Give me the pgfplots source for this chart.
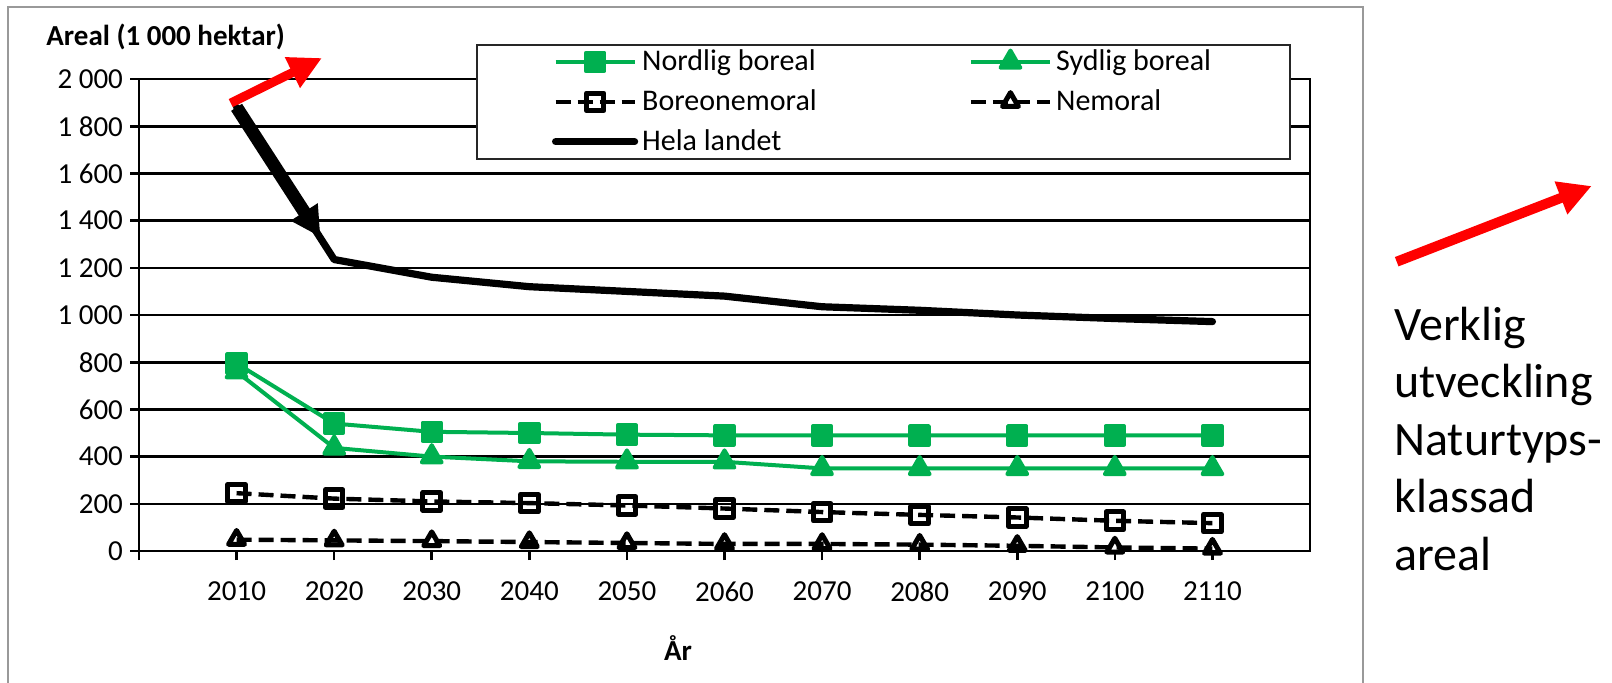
\documentclass[border=0pt]{standalone}
\usepackage{fontspec}
\setmainfont{Carlito}
\usepackage{pgfplots}
\pgfplotsset{compat=1.18}
\usetikzlibrary{arrows.meta}
\definecolor{xlgreen}{HTML}{00B050}

\begin{document}
\begin{tikzpicture}
% page = 1612 x 682 px, 1 px = 0.5pt
\path[use as bounding box, fill=white] (0,0) rectangle (806pt,341pt);
\draw[gray!80, line width=0.8pt] (4pt,-5pt) -- (4pt,337.5pt) -- (681.5pt,337.5pt) -- (681.5pt,-5pt);

\begin{axis}[
    at={(69.5pt,65.5pt)}, anchor=south west,
    scale only axis, width=585.5pt, height=236pt,
    xmin=2000, xmax=2120, ymin=0, ymax=2000,
    xtick={2000,2010,2020,2030,2040,2050,2060,2070,2080,2090,2100,2110},
    xticklabels={,2010,2020,2030,2040,2050,2060,2070,2080,2090,2100,2110},
    ytick={0,200,400,600,800,1000,1200,1400,1600,1800,2000},
    yticklabels={0,200,400,600,800,1 000,1 200,1 400,1 600,1 800,2 000},
    ymajorgrids, grid style={black, line width=1.3pt},
    axis line style={black, line width=1.3pt},
    tick style={black, line width=1.3pt},
    tick align=outside, major tick length=4.5pt, tick pos=left,
    tick label style={font=\fontsize{14.5}{16}\selectfont},
    xticklabel style={yshift=-7.5pt},
    /pgf/number format/assume math mode=true,
    clip=false,
    legend columns=2,
    legend cell align=left,
    legend image code/.code={\draw[mark repeat=2,mark phase=2,#1] plot coordinates {(0pt,0pt) (19.75pt,0pt) (39.5pt,0pt)};},
    legend style={at={(0.2878,1.074)}, anchor=north west, draw=black!85, line width=1pt,
        font=\fontsize{15}{17}\selectfont, inner xsep=37.5pt, inner ysep=0pt,
        nodes={inner ysep=2.5pt}, row sep=3pt,
        /tikz/every even column/.append style={column sep=74pt}},
]
\addplot[xlgreen, line width=2pt, mark=square*, mark size=4.6pt, mark options={solid, line join=round}] coordinates {
    (2010,795) (2020,540) (2030,505) (2040,500) (2050,493) (2060,490)
    (2070,490) (2080,490) (2090,490) (2100,490) (2110,490)
};
\addlegendentry{Nordlig boreal}
\addplot[xlgreen, line width=2pt, mark=triangle*, mark size=5.7pt, mark options={solid, line join=round}] coordinates {
    (2010,760) (2020,437) (2030,400) (2040,380) (2050,378) (2060,378)
    (2070,350) (2080,350) (2090,350) (2100,350) (2110,350)
};
\addlegendentry{Sydlig boreal}
\addplot[black, line width=2.2pt, dash pattern=on 7.5pt off 3.5pt, mark=square, mark size=4.4pt,
    mark options={solid, line width=2.5pt, line join=round}] coordinates {
    (2010,245) (2020,222) (2030,210) (2040,203) (2050,193) (2060,180)
    (2070,165) (2080,153) (2090,142) (2100,128) (2110,118)
};
\addlegendentry{Boreonemoral}
\addplot[black, line width=2.2pt, dash pattern=on 7.5pt off 3.5pt, mark=triangle, mark size=4.6pt,
    mark options={solid, line width=2.5pt, line join=round}] coordinates {
    (2010,48) (2020,45) (2030,42) (2040,38) (2050,34) (2060,30)
    (2070,30) (2080,27) (2090,22) (2100,15) (2110,10)
};
\addlegendentry{Nemoral}
\addplot[black, line width=3.6pt, line cap=round, line join=round] coordinates {
    (2010,1880) (2020,1235) (2030,1160) (2040,1120) (2050,1100) (2060,1080)
    (2070,1035) (2080,1020) (2090,1000) (2100,985) (2110,972)
};
\addlegendentry{Hela landet}

% annotations
\draw[black, line width=6.5pt, -{Triangle[length=15pt, width=15pt]}]
    (axis cs:2010,1880) -- (axis cs:2018.6,1330);
\draw[red, line width=4.5pt, -{Triangle[length=16.5pt, width=16pt]}]
    (axis cs:2009.4,1898) -- (axis cs:2018.75,2089);
\end{axis}

\node[anchor=base west, inner sep=0, font=\bfseries\fontsize{14.5}{16}\selectfont] at (23pt,318.5pt) {Areal (1 000 hektar)};
\node[anchor=base, inner sep=0, font=\bfseries\fontsize{14.5}{16}\selectfont] at (339pt,11pt) {År};

\draw[red, line width=5pt, -{Triangle[length=16.5pt, width=16.5pt]}] (698.35pt,210.15pt) -- (795.85pt,248pt);
\begin{scope}[every node/.style={anchor=base west, inner sep=0, font=\fontsize{24}{28}\selectfont}]
\node at (697pt,171pt) {Verklig};
\node at (697pt,142.2pt) {utveckling};
\node at (697pt,113.4pt) {Naturtyps-};
\node at (697pt,84.6pt) {klassad};
\node at (697pt,55.8pt) {areal};
\end{scope}
\end{tikzpicture}
\end{document}
